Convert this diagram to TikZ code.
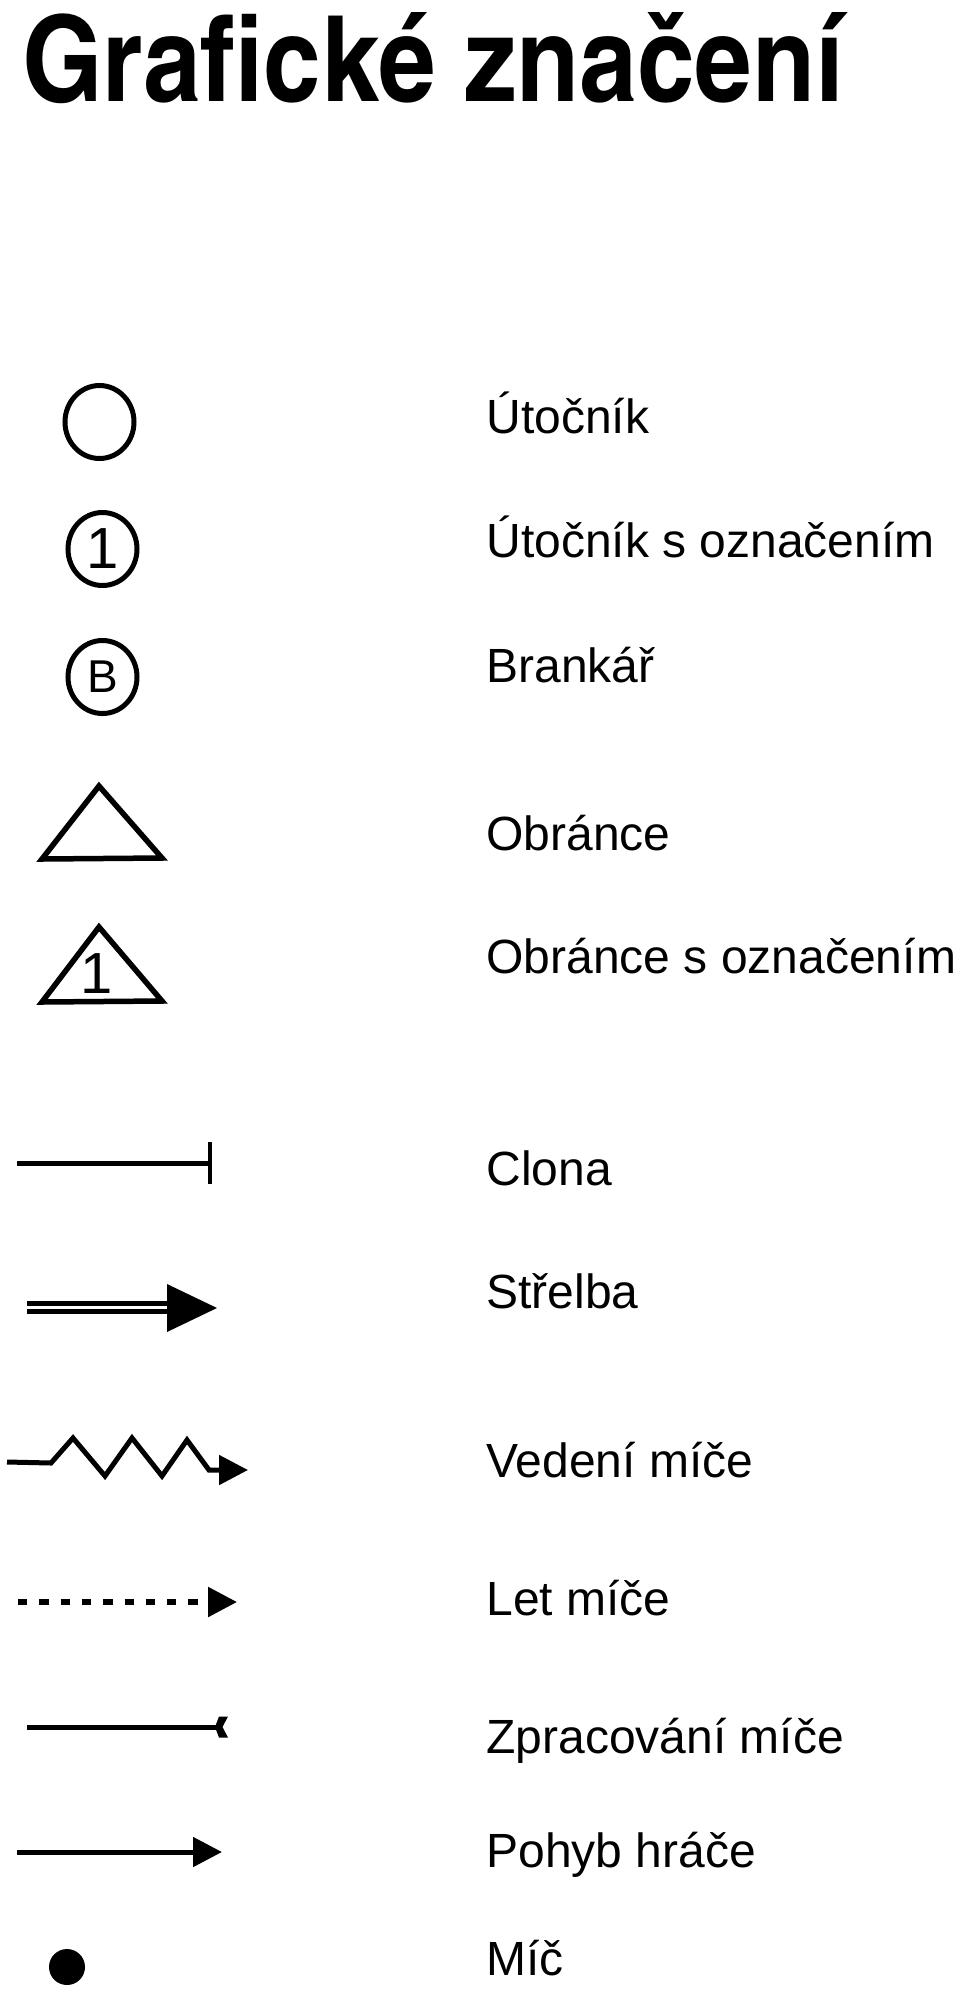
\documentclass[tikz,border=0pt]{standalone}
\usepackage{fontspec}
\setmainfont{Liberation Sans}
\newfontfamily\titlefont{texgyreheroscn-bold.otf}
\usetikzlibrary{arrows.meta}
\usetikzlibrary{shapes.geometric}
\usetikzlibrary{positioning}
\tikzset{x = 1pt, y = -1pt, > = {Triangle[length = 29pt, width = 29pt]}}
\tikzset{player/.style = {draw, ellipse, line width = 5pt, minimum width = 69pt, minimum height = 73pt, inner sep = 0pt}}
\tikzset{defender/.style = {draw, line width = 5.5pt, line join = miter}}
\tikzset{caption/.style = {anchor = base west, inner sep = 0pt, font = \fontsize{48}{58}\selectfont}}
\tikzset{mark1/.style = {inner sep = 0pt, font = \fontsize{58}{60}\selectfont}}

\begin{document}
\begin{tikzpicture}[line width = 5pt]
  \useasboundingbox (0,0) rectangle (960,1989);
  % title
  \node [anchor = base west, inner sep = 0pt, font = \titlefont\fontsize{119}{130}\selectfont] (title) at (20,101) {\scalebox{1.06}[1]{Grafické značení}};
  % players
  \node [player] (att) at (99.5,422) {};
  \node [player] (attnum) at (102.5,549) {};
  \node [mark1] (attone) at (attnum) {1};
  \node [player] (gk) at (102.5,677) {};
  \node [inner sep = 0pt, font = \fontsize{46}{50}\selectfont] (gkb) at (gk) {B};
  \coordinate (dfa) at (99,786);
  \coordinate (dfr) at (162,858);
  \coordinate (dfl) at (42,859);
  \draw [defender] (dfa) -- (dfr) -- (dfl) -- cycle;
  \coordinate (dna) at (99,927);
  \coordinate (dnr) at (162,1001);
  \coordinate (dnl) at (42,1002);
  \draw [defender] (dna) -- (dnr) -- (dnl) -- cycle;
  \node [mark1] (dnone) at (97,974) {1};
  % line samples
  \coordinate (scs) at (17,1163);
  \coordinate (sce) at (212,1163);
  \draw [-{Bar[width = 42pt, line width = 4.5pt]}] (scs) -- (sce);
  \coordinate (shs) at (27,1307.5);
  \coordinate (shm) at (170,1307.5);
  \draw [double, line width = 4.5pt, double distance = 3.5pt] (shs) -- (shm);
  \fill (167,1284) -- (217,1308) -- (167,1332) -- cycle;
  \coordinate (drs) at (7,1462);
  \coordinate (dre) at (248,1470);
  \draw [->, line join = miter] (drs) -- (51,1463) -- (73,1438) -- (105,1476) -- (132,1438)
    -- (162,1476) -- (187,1440) -- (209,1470) -- (dre);
  \coordinate (pss) at (18,1602);
  \coordinate (pse) at (237,1602);
  \draw [->, line width = 5.5pt, dash pattern = on 9.3pt off 12pt] (pss) -- (pse);
  \coordinate (cts) at (27,1727);
  \coordinate (cte) at (217,1727);
  \draw (cts) -- (cte);
  \fill (215,1727) -- (219,1716.5) -- (228,1716.5) -- (222.5,1727) -- (228,1737.5) -- (219,1737.5) -- cycle;
  \coordinate (mvs) at (17,1852);
  \coordinate (mve) at (222,1852);
  \draw [->] (mvs) -- (mve);
  \node [circle, fill, minimum size = 36pt, inner sep = 0pt] (ball) at (67,1967) {};
  % captions
  \node [caption] (t1) at (484,433) {Útočník};
  \node [caption] (t2) at (484,557) {Útočník s označením};
  \node [caption] (t3) at (484,682) {Brankář};
  \node [caption] (t4) at (484,850) {Obránce};
  \node [caption] (t5) at (484,973) {Obránce s označením};
  \node [caption] (t6) at (484,1185) {Clona};
  \node [caption] (t7) at (484,1308) {Střelba};
  \node [caption] (t8) at (484,1477) {Vedení míče};
  \node [caption] (t9) at (484,1615) {Let míče};
  \node [caption] (t10) at (484,1753) {Zpracování míče};
  \node [caption] (t11) at (484,1867) {Pohyb hráče};
  \node [caption] (t12) at (484,1975) {Míč};
\end{tikzpicture}
\end{document}
